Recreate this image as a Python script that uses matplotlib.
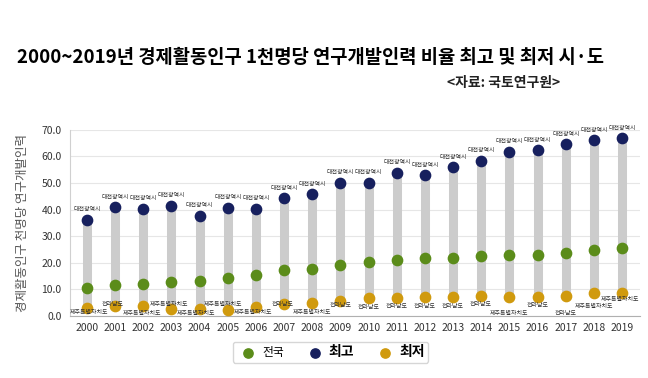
import numpy as np
import matplotlib
matplotlib.use('Agg')
import matplotlib.pyplot as plt

plt.rcParams['font.family'] = ['Noto Sans CJK KR', 'DejaVu Sans']

# Data
years = ['2000', '2001', '2002', '2003', '2004', '2005', '2006', '2007', '2008', '2009',
         '2010', '2011', '2012', '2013', '2014', '2015', '2016', '2017', '2018', '2019']
national = [10.7, 11.7, 12.2, 12.9, 13.3, 14.2, 15.3, 17.3, 17.8, 19.1,
            20.1, 20.9, 21.9, 21.8, 22.6, 22.8, 22.8, 23.6, 24.8, 25.7]
highest = [36.1, 40.9, 40.2, 41.5, 37.7, 40.6, 40.2, 44.3, 45.7, 50.1,
           50.1, 53.9, 52.8, 55.8, 58.3, 61.7, 62.2, 64.5, 66.0, 66.7]
lowest = [2.9, 3.9, 3.6, 2.8, 2.5, 2.3, 3.5, 4.4, 4.8, 5.8,
          6.6, 6.9, 7.3, 7.0, 7.7, 7.1, 7.1, 7.4, 8.5, 8.8]
high_region = ['대전광역시'] * 20
jeju = '제주특별자치도'
jnam = '전라남도'
low_region = [jeju, jnam, jeju, jeju, jeju, jeju, jeju, jnam, jeju, jnam,
              jnam, jnam, jnam, jnam, jnam, jeju, jnam, jnam, jeju, jeju]

# label placement (pixels relative to the dot)
low_dy = [-4, 1, -7, 4, -4, 5, -6, 0, -9, -5, -9, -9, -10, -9, -9, -16, -8, -17, -13, -7]
low_dx = [2, -2, -1, -2, -4, -5, -3, -1, 0, 0, 0, 0, 0, 0, -1, 0, 0, 0, 0, -2]

c_nat = '#5b8c1a'
c_high = '#17205e'
c_low = '#d09a0e'
c_bar = '#cccccc'

fig = plt.figure(figsize=(6.48, 3.78), dpi=100)
fig.patch.set_facecolor('white')

fig.text(0.026, 0.848, '2000~2019년 경제활동인구 1천명당 연구개발인력 비율 최고 및 최저 시·도',
         fontsize=13.5, fontweight='bold', color='black', va='center', ha='left')
fig.text(0.69, 0.78, '<자료: 국토연구원>', fontsize=10, fontweight='bold',
         color='#222222', va='center', ha='left')

ax = fig.add_axes([0.108, 0.164, 0.880, 0.493])
x = np.arange(len(years))

ax.vlines(x, lowest, highest, color=c_bar, linewidth=6.5, zorder=1)
h1 = ax.scatter(x, national, s=55, color=c_nat, zorder=3, label='전국')
h2 = ax.scatter(x, highest, s=55, color=c_high, zorder=3, label='최고')
h3 = ax.scatter(x, lowest, s=55, color=c_low, zorder=3, label='최저')

for i in range(len(years)):
    ax.annotate(high_region[i], (x[i], highest[i]), xytext=(0, 10),
                textcoords='offset pixels', ha='center', va='center',
                fontsize=4.3, color='#333333', zorder=4)
    ax.annotate(low_region[i], (x[i], lowest[i]), xytext=(low_dx[i], low_dy[i]),
                textcoords='offset pixels', ha='center', va='center',
                fontsize=4.3, color='#333333', zorder=4)

ax.set_xlim(-0.6, 19.64)
ax.set_ylim(0, 70)
ax.set_yticks(np.arange(0, 71, 10))
ax.set_yticklabels(['%.1f' % v for v in np.arange(0, 71, 10)])
ax.set_xticks(x)
ax.set_xticklabels(years)
ax.tick_params(axis='both', length=0, labelsize=7.5, colors='#333333')
ax.tick_params(axis='y', pad=6)
ax.tick_params(axis='x', pad=5)
ax.grid(axis='y', color='#e6e6e6', linewidth=0.8)
ax.set_axisbelow(True)
for s in ['top', 'right']:
    ax.spines[s].set_visible(False)
ax.spines['left'].set_color('#d0d0d0')
ax.spines['bottom'].set_color('#b0b0b0')

ax.set_ylabel('경제활동인구 천명당 연구개발인력', fontsize=9, color='#555555', labelpad=9)

leg = fig.legend(handles=[h1, h2, h3], loc='center', bbox_to_anchor=(0.51, 0.068),
                 ncol=3, frameon=True, fontsize=8.5, handletextpad=0.2,
                 columnspacing=1.6, markerscale=0.9, borderpad=0.3,
                 fancybox=True, edgecolor='#cccccc')
for t in leg.get_texts()[1:]:
    t.set_fontweight('bold')
    t.set_fontsize(10)

fig.savefig('out.png', dpi=100)
